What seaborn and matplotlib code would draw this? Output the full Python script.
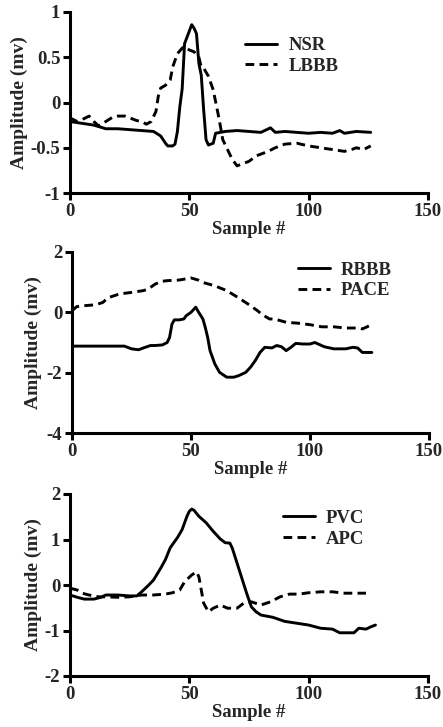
import numpy as np
import pandas as pd
import matplotlib
matplotlib.use("Agg")
import matplotlib.pyplot as plt
import seaborn as sns

# ---------------- data ----------------
nsr_x = [0, 5, 10, 15, 20, 25, 30, 35, 38, 40, 41, 43, 44, 45, 46, 47, 48, 49, 51, 52, 53, 54, 55, 56, 57, 58, 60, 61, 65, 70, 75, 80, 84, 86, 90, 95, 100, 105, 110, 113, 115, 120, 126]
nsr_y = [-0.21, -0.23, -0.25, -0.29, -0.29, -0.30, -0.31, -0.32, -0.37, -0.45, -0.48, -0.48, -0.46, -0.32, -0.05, 0.15, 0.65, 0.72, 0.86, 0.82, 0.76, 0.43, 0.30, -0.08, -0.41, -0.47, -0.45, -0.34, -0.32, -0.31, -0.32, -0.33, -0.28, -0.33, -0.32, -0.33, -0.34, -0.33, -0.34, -0.31, -0.34, -0.32, -0.33]
lbbb_x = [0, 3, 5, 8, 10, 12, 15, 18, 20, 23, 25, 28, 30, 32, 34, 36, 37, 38, 40, 42, 43, 45, 47, 48, 50, 52, 54, 55, 56, 58, 60, 62, 63, 64, 66, 68, 70, 72, 75, 78, 80, 83, 86, 90, 95, 100, 105, 110, 115, 118, 120, 123, 126]
lbbb_y = [-0.17, -0.21, -0.19, -0.15, -0.21, -0.26, -0.21, -0.16, -0.15, -0.15, -0.17, -0.20, -0.21, -0.24, -0.21, -0.10, 0.07, 0.16, 0.19, 0.25, 0.39, 0.54, 0.60, 0.62, 0.58, 0.56, 0.50, 0.39, 0.38, 0.29, 0.14, -0.12, -0.26, -0.41, -0.52, -0.63, -0.70, -0.68, -0.65, -0.59, -0.57, -0.54, -0.50, -0.46, -0.45, -0.48, -0.50, -0.52, -0.54, -0.52, -0.50, -0.52, -0.48]

rbbb_x = [0, 10, 22, 25, 28, 30, 33, 35, 38, 40, 41, 42, 43, 45, 47, 48, 50, 52, 53, 55, 56, 57, 58, 60, 62, 65, 68, 70, 73, 75, 77, 79, 81, 84, 86, 88, 90, 92, 94, 97, 100, 102, 104, 106, 110, 115, 118, 120, 122, 126]
rbbb_y = [-1.12, -1.12, -1.12, -1.21, -1.24, -1.18, -1.10, -1.10, -1.08, -1.00, -0.83, -0.39, -0.25, -0.25, -0.22, -0.11, 0.00, 0.17, 0.03, -0.22, -0.50, -0.83, -1.27, -1.71, -1.99, -2.15, -2.15, -2.10, -1.99, -1.82, -1.60, -1.33, -1.16, -1.18, -1.10, -1.14, -1.27, -1.16, -1.03, -1.05, -1.05, -1.00, -1.07, -1.14, -1.21, -1.21, -1.16, -1.18, -1.33, -1.33]
pace_x = [0, 2, 5, 10, 13, 15, 20, 25, 30, 32, 35, 38, 40, 45, 50, 53, 55, 60, 65, 70, 75, 78, 80, 83, 85, 90, 95, 100, 105, 110, 115, 120, 122, 124, 126]
pace_y = [0.05, 0.19, 0.22, 0.25, 0.33, 0.48, 0.61, 0.66, 0.72, 0.77, 0.94, 1.03, 1.05, 1.07, 1.14, 1.07, 0.99, 0.88, 0.72, 0.48, 0.22, 0.05, -0.08, -0.22, -0.22, -0.33, -0.36, -0.41, -0.48, -0.48, -0.52, -0.52, -0.55, -0.48, -0.39]

pvc_x = [0, 3, 6, 10, 13, 15, 20, 25, 28, 30, 33, 35, 38, 40, 42, 45, 47, 49, 50, 51, 52, 54, 57, 60, 63, 65, 67, 68, 70, 72, 74, 76, 78, 80, 85, 90, 95, 100, 105, 110, 113, 116, 119, 121, 124, 126, 128]
pvc_y = [-0.22, -0.27, -0.31, -0.31, -0.27, -0.22, -0.22, -0.24, -0.24, -0.15, 0.00, 0.11, 0.37, 0.56, 0.82, 1.04, 1.22, 1.51, 1.62, 1.67, 1.64, 1.51, 1.37, 1.18, 1.01, 0.93, 0.92, 0.81, 0.48, 0.15, -0.18, -0.48, -0.59, -0.66, -0.71, -0.80, -0.84, -0.88, -0.95, -0.97, -1.05, -1.05, -1.05, -0.95, -0.97, -0.92, -0.88]
apc_x = [0, 3, 5, 8, 12, 15, 20, 25, 30, 35, 40, 43, 46, 48, 51, 53, 54, 55, 56, 58, 60, 63, 66, 70, 73, 76, 80, 84, 88, 92, 96, 100, 105, 110, 115, 120, 124]
apc_y = [-0.07, -0.11, -0.18, -0.22, -0.26, -0.26, -0.27, -0.26, -0.22, -0.22, -0.20, -0.17, -0.11, 0.07, 0.22, 0.29, 0.18, -0.11, -0.40, -0.59, -0.51, -0.44, -0.51, -0.51, -0.39, -0.37, -0.44, -0.37, -0.26, -0.20, -0.20, -0.17, -0.15, -0.15, -0.18, -0.18, -0.18]

panels = [
    (("NSR", nsr_x, nsr_y), ("LBBB", lbbb_x, lbbb_y), (-1, 1), [-1, -0.5, 0, 0.5, 1], ["-1", "-0.5", "0", "0.5", "1"]),
    (("RBBB", rbbb_x, rbbb_y), ("PACE", pace_x, pace_y), (-4, 2), [-4, -2, 0, 2], ["-4", "-2", "0", "2"]),
    (("PVC", pvc_x, pvc_y), ("APC", apc_x, apc_y), (-2, 2), [-2, -1, 0, 1, 2], ["-2", "-1", "0", "1", "2"]),
]
x_ticks = [0, 50, 100, 150]

# ---------------- style ----------------
sns.set_theme(style="ticks")
plt.rcParams["font.family"] = ["Liberation Serif", "DejaVu Serif"]
plt.rcParams["font.weight"] = "bold"
plt.rcParams["axes.labelweight"] = "bold"

FS = 13.5
fig = plt.figure(figsize=(4.43, 7.27), dpi=100)

W, H = 443.0, 727.0
axes_px = [(70, 12, 428, 193), (72, 252, 429, 433), (70, 494, 428, 676)]
legend_anchor = [(0.49, 0.862), (0.633, 0.948), (0.595, 0.914)]
ylabel_right_px = [28, 42, 42]

for i, (s1, s2, ylim, yt, ytl) in enumerate(panels):
    l, t, r, b = axes_px[i]
    ax = fig.add_axes([l / W, 1 - b / H, (r - l) / W, (b - t) / H])
    frames = []
    for name, xs, ys in (s1, s2):
        frames.append(pd.DataFrame({"Sample": xs, "Amp": ys, "Series": name}))
    df = pd.concat(frames, ignore_index=True)
    sns.lineplot(data=df, x="Sample", y="Amp", style="Series",
                 dashes={s1[0]: "", s2[0]: (3.0, 1.8)},
                 color="black", linewidth=2.1, ax=ax, sort=False,
                 estimator=None)
    ax.set_xlim(0, 150)
    ax.set_ylim(*ylim)
    ax.set_xticks(x_ticks)
    ax.set_xticklabels([str(v) for v in x_ticks], fontsize=FS, fontweight="bold")
    ax.set_yticks(yt)
    ax.set_yticklabels(ytl, fontsize=FS, fontweight="bold")
    ax.set_xlabel("Sample #", fontsize=FS, fontweight="bold", labelpad=1)
    ax.set_ylabel("Amplitude (mv)", fontsize=FS + 0.5, fontweight="bold")
    ax.yaxis.set_label_coords((ylabel_right_px[i] - l) / (r - l), 0.5)
    for sp in ("top", "right"):
        ax.spines[sp].set_visible(False)
    for sp in ("left", "bottom"):
        ax.spines[sp].set_linewidth(2.2)
        ax.spines[sp].set_color("black")
    ax.tick_params(axis="both", direction="out", length=5, width=2.2,
                   color="black", pad=2)
    ax.set_facecolor("white")
    leg = ax.legend(loc="upper left", bbox_to_anchor=legend_anchor[i],
                    frameon=False, fontsize=FS, handlelength=1.7,
                    handletextpad=0.6, labelspacing=0.2, borderpad=0,
                    borderaxespad=0)
    for line in leg.get_lines():
        line.set_linewidth(2.1)

fig.savefig("out.png", dpi=100, facecolor="white")
